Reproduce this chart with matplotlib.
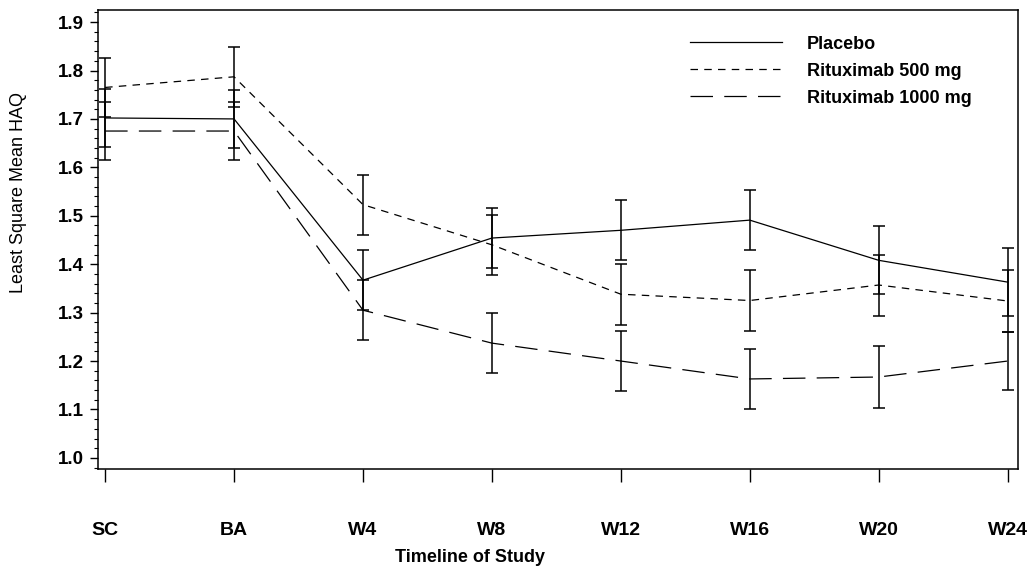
import matplotlib
matplotlib.use("Agg")
import matplotlib.pyplot as plt
from matplotlib.ticker import MultipleLocator

plt.rcParams["font.family"] = ["Liberation Sans", "DejaVu Sans"]

visits = ["SC", "BA", "W4", "W8", "W12", "W16", "W20", "W24"]

placebo = [1.702, 1.700, 1.367, 1.454, 1.470, 1.491, 1.408, 1.363]
placebo_err = [0.060, 0.060, 0.062, 0.062, 0.062, 0.062, 0.070, 0.070]

rtx500 = [1.765, 1.787, 1.523, 1.440, 1.338, 1.325, 1.357, 1.324]
rtx500_err = [0.061, 0.062, 0.062, 0.062, 0.063, 0.063, 0.063, 0.063]

rtx1000 = [1.675, 1.675, 1.305, 1.237, 1.200, 1.163, 1.167, 1.200]
rtx1000_err = [0.060, 0.060, 0.062, 0.062, 0.062, 0.062, 0.065, 0.060]

series = [
    ("Placebo", placebo, placebo_err, "-"),
    ("Rituximab 500 mg", rtx500, rtx500_err, (0, (6, 5))),
    ("Rituximab 1000 mg", rtx1000, rtx1000_err, (0, (18, 9))),
]

fig = plt.figure(figsize=(10.34, 5.67), dpi=100)
ax = fig.add_axes([0.0948, 0.1728, 0.8897, 0.8096])

x = list(range(len(visits)))
for label, vals, err, ls in series:
    ax.errorbar(x, vals, yerr=err, fmt="none", ecolor="black", elinewidth=1.1,
                capsize=4, capthick=1.1)
    ax.plot(x, vals, color="black", linestyle=ls, linewidth=0.9, label=label)

ax.set_xlim(-0.055, 7.08)
ax.set_ylim(0.977, 1.925)
ax.set_xticks(x)
ax.set_xticklabels(visits, fontsize=14, fontweight="bold")
ax.yaxis.set_major_locator(MultipleLocator(0.1))
ax.yaxis.set_minor_locator(MultipleLocator(0.02))
ax.set_yticklabels([f"{v:.1f}" for v in ax.get_yticks()], fontsize=13.5, fontweight="bold")
ax.set_ylim(0.977, 1.925)

ax.tick_params(axis="x", direction="out", length=9, width=1, pad=29)
ax.tick_params(axis="y", which="major", direction="out", length=6, width=1, pad=4)
ax.tick_params(axis="y", which="minor", direction="out", length=3, width=0.8)
for s in ax.spines.values():
    s.set_linewidth(1.1)

ax.set_ylabel("Least Square Mean HAQ", fontsize=13)
ax.yaxis.set_label_coords(-0.077, 0.603)
ax.set_xlabel("Timeline of Study", fontsize=13, fontweight="bold")
ax.xaxis.set_label_coords(0.404, -0.175)

leg = ax.legend(loc="upper left", bbox_to_anchor=(0.643, 0.944), frameon=False,
                handlelength=5.1, handletextpad=1.4, labelspacing=0.55,
                borderpad=0, borderaxespad=0,
                prop={"size": 13, "weight": "bold"})

fig.savefig("out.png", dpi=100)
